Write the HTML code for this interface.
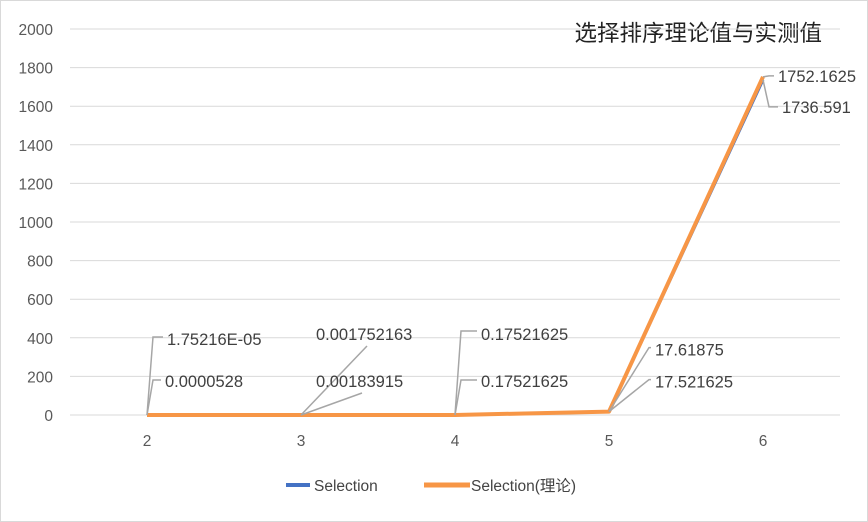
<!DOCTYPE html>
<html><head><meta charset="utf-8"><style>
body{margin:0;background:#fff}
svg{display:block;font-family:"Liberation Sans","Noto Sans CJK SC",sans-serif}
</style></head><body>
<svg id="c" width="868" height="522">
<rect x="0.5" y="0.5" width="867" height="521" fill="#fff" stroke="#d9d9d9"/>
<text x="822" y="41" text-anchor="end" font-size="22.5" fill="#222">选择排序理论值与实测值</text>
<g id="grid"></g><g id="series"></g><g id="labels"></g>
<g>
<line x1="286" y1="485" x2="310" y2="485" stroke="#4472c4" stroke-width="4"/>
<text x="314" y="491" font-size="15.5" fill="#444">Selection</text>
<line x1="424" y1="485" x2="470" y2="485" stroke="#f79646" stroke-width="5"/>
<text x="471" y="491" font-size="15.5" fill="#444">Selection(理论)</text>
</g>
</svg>
<script>
const categories=["2","3","4","5","6"];
const measured=[0.0000528,0.00183915,0.17521625,17.61875,1736.591];
const theory=[0.0000175216,0.001752163,0.17521625,17.521625,1752.1625];
const measuredLabels=["0.0000528","0.00183915","0.17521625","17.61875","1736.591"];
const theoryLabels=["1.75216E-05","0.001752163","0.17521625","17.521625","1752.1625"];
const yTicks=[0,200,400,600,800,1000,1200,1400,1600,1800,2000];
const NS="http://www.w3.org/2000/svg";
const x0=70,x1=840,y0=415,y1=29,ymax=2000;
const xs=i=>x0+(x1-x0)/categories.length*(i+0.5);
const ys=v=>y0-(v/ymax)*(y0-y1);
function mk(t,a,p){const e=document.createElementNS(NS,t);for(const k in a)e.setAttribute(k,a[k]);p.appendChild(e);return e;}
const grid=document.getElementById('grid');
yTicks.forEach(v=>{
 const l=mk('line',{x1:x0,x2:x1,y1:ys(v),y2:ys(v),stroke:'#d9d9d9','stroke-width':1},grid);
 
 
 const t=mk('text',{x:53,y:ys(v)+6,'text-anchor':'end','font-size':15.5,fill:'#595959'},grid);
 t.textContent=v;
 
 
});
categories.forEach((c,i)=>{
 const t=mk('text',{x:xs(i),y:446,'text-anchor':'middle','font-size':15.5,fill:'#595959'},grid);
 t.textContent=c;
 
 
});
const sg=document.getElementById('series');
const p1=mk('polyline',{points:measured.map((v,i)=>xs(i)+','+ys(v)).join(' '),fill:'none',stroke:'#4472c4','stroke-width':3,'stroke-linejoin':'round'},sg);


const p2=mk('polyline',{points:theory.map((v,i)=>xs(i)+','+ys(v)).join(' '),fill:'none',stroke:'#f79646','stroke-width':4,'stroke-linejoin':'round'},sg);


// label layout: leader end (ex,ey), text pos (tx,ty) relative to point - layout only
const tLay=[[6,-78,20,-70,'elbow'],[66,-69,15,-75,'diag'],[6,-84,26,-75,'elbow'],[40,-32,46,-24,'elbow'],[6,-1,15,5,'elbow']];
const mLay=[[6,-35,18,-28,'elbow'],[61,-22,15,-28,'diag'],[6,-35,26,-28,'elbow'],[40,-64,46,-56,'elbow'],[6,27,19,33,'elbow']];
const lg=document.getElementById('labels');
function lab(vals,labels,lay,name){
 vals.forEach((v,i)=>{
  const px=xs(i),py=ys(v);const L=lay[i];
  const pts=L[4]=='diag'?`${px},${py} ${px+L[0]},${py+L[1]}`:`${px},${py} ${px+L[0]},${py+L[1]} ${px+L[2]-4},${py+L[1]}`;
  const l=mk('polyline',{points:pts,fill:'none',stroke:'#a6a6a6','stroke-width':1.5},lg);
  
  
  const t=mk('text',{x:px+L[2],y:py+L[3],'font-size':16.5,fill:'#404040'},lg);
  t.textContent=labels[i];
  
  
 });
}
lab(theory,theoryLabels,tLay,'theory');
lab(measured,measuredLabels,mLay,'selection');
</script>
</body></html>
